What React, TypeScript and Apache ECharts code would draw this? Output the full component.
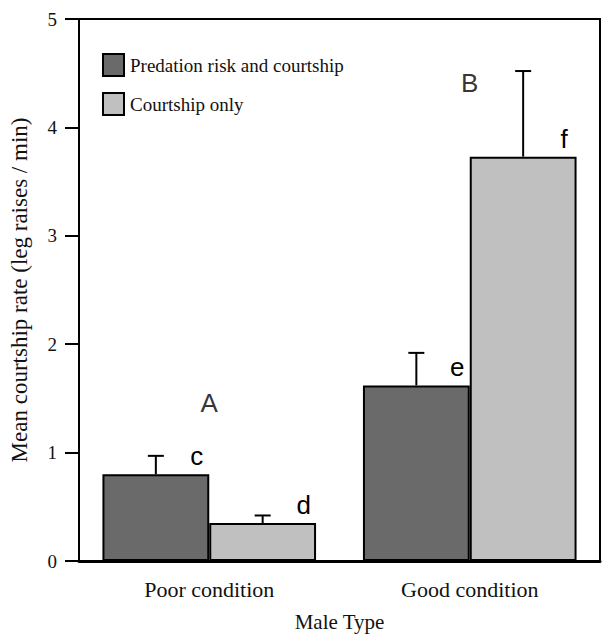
import React, { useEffect, useRef } from "react";
import * as echarts from "echarts";

const categories = ["Poor condition", "Good condition"];
const seriesNames = ["Predation risk and courtship", "Courtship only"];
const predationMeans = [0.8, 1.62];
const predationUpper = [0.97, 1.92];
const courtshipMeans = [0.35, 3.73];
const courtshipUpper = [0.42, 4.52];
const predationLetters = ["c", "e"];
const courtshipLetters = ["d", "f"];
const groupLetters = ["A", "B"];
const groupLetterValues = [1.46, 4.41];
const yTicks = [0, 1, 2, 3, 4, 5];

const CAT_GAP = 0.18;

export default function App() {
  const ref = useRef<HTMLDivElement>(null);
  useEffect(() => {
    if (!ref.current) return;
    const chart = echarts.init(ref.current, null, { renderer: "svg" });

    const makeErr = (means: number[], upper: number[], letters: string[], side: number) => ({
      type: "custom",
      z: 5,
      silent: true,
      data: means.map((m, i) => [i, m, upper[i]]),
      renderItem: (params: any, api: any) => {
        const cat = api.value(0);
        const val = api.value(1);
        const hi = api.value(2);
        const band = api.size([1, 0])[0];
        const barW = (band * (1 - CAT_GAP)) / 2;
        const center = api.coord([cat, 0])[0];
        const x = center + (side * barW) / 2;
        const top = api.coord([cat, val])[1];
        const hiY = api.coord([cat, hi])[1];
        return {
          type: "group",
          children: [
            { type: "line", shape: { x1: x, y1: top, x2: x, y2: hiY }, style: { stroke: "#000", lineWidth: 2 } },
            { type: "line", shape: { x1: x - 8, y1: hiY, x2: x + 8, y2: hiY }, style: { stroke: "#000", lineWidth: 2 } },
            {
              type: "text",
              x: x + 41,
              y: top - 18,
              style: {
                text: letters[params.dataIndex],
                font: "26px 'Liberation Sans', Arial, sans-serif",
                fill: "#000",
                align: "center",
                verticalAlign: "middle",
              },
            },
          ],
        };
      },
    });

    chart.setOption({
      animation: false,
      backgroundColor: "#fff",
      grid: {
        left: 77,
        right: 4,
        top: 19,
        bottom: 75,
        show: true,
        borderColor: "#000",
        borderWidth: 2,
        backgroundColor: "transparent",
      },
      legend: {
        orient: "vertical",
        left: 97,
        top: 48,
        itemWidth: 21,
        itemHeight: 22,
        itemGap: 15,
        icon: "rect",
        data: seriesNames,
        textStyle: {
          fontFamily: "'Liberation Serif', 'Times New Roman', serif",
          fontSize: 19,
          color: "#111",
          padding: [0, 0, 0, 1],
        },
      },
      xAxis: {
        type: "category",
        data: categories,
        name: "Male Type",
        nameLocation: "middle",
        nameGap: 50,
        nameTextStyle: {
          fontFamily: "'Liberation Serif', 'Times New Roman', serif",
          fontSize: 21,
          color: "#111",
        },
        axisLine: { lineStyle: { color: "#000", width: 3 } },
        axisTick: { alignWithLabel: true, length: 14, lineStyle: { color: "#000", width: 2 } },
        axisLabel: {
          margin: 17,
          fontFamily: "'Liberation Serif', 'Times New Roman', serif",
          fontSize: 22,
          color: "#111",
        },
      },
      yAxis: {
        type: "value",
        min: 0,
        max: 5,
        interval: 1,
        name: "Mean courtship rate (leg raises / min)",
        nameLocation: "middle",
        nameGap: 48,
        nameTextStyle: {
          fontFamily: "'Liberation Serif', 'Times New Roman', serif",
          fontSize: 23,
          color: "#111",
        },
        axisLine: { show: true, lineStyle: { color: "#000", width: 2 } },
        axisTick: { show: true, length: 14, lineStyle: { color: "#000", width: 2 } },
        splitLine: { show: false },
        axisLabel: {
          margin: 22,
          fontFamily: "'Liberation Serif', 'Times New Roman', serif",
          fontSize: 19,
          color: "#111",
          formatter: (v: number) => (yTicks.includes(v) ? String(v) : ""),
        },
      },
      series: [
        {
          name: seriesNames[0],
          type: "bar",
          data: predationMeans,
          barGap: "0%",
          barCategoryGap: CAT_GAP * 100 + "%",
          itemStyle: { color: "#6a6a6a", borderColor: "#000", borderWidth: 2 },
        },
        {
          name: seriesNames[1],
          type: "bar",
          data: courtshipMeans,
          barGap: "0%",
          barCategoryGap: CAT_GAP * 100 + "%",
          itemStyle: { color: "#c0c0c0", borderColor: "#000", borderWidth: 2 },
        },
        makeErr(predationMeans, predationUpper, predationLetters, -1),
        makeErr(courtshipMeans, courtshipUpper, courtshipLetters, 1),
        {
          type: "scatter",
          symbolSize: 0,
          silent: true,
          data: groupLetterValues.map((v, i) => [i, v]),
          label: {
            show: true,
            position: "inside",
            formatter: (p: any) => groupLetters[p.dataIndex],
            fontFamily: "'Liberation Sans', Arial, sans-serif",
            fontSize: 26,
            color: "#000",
          },
        },
      ],
    });
    return () => chart.dispose();
  }, []);
  return (
    <div
      ref={ref}
      style={{ position: "fixed", left: 0, top: 0, width: 604, height: 637 }}
    />
  );
}
